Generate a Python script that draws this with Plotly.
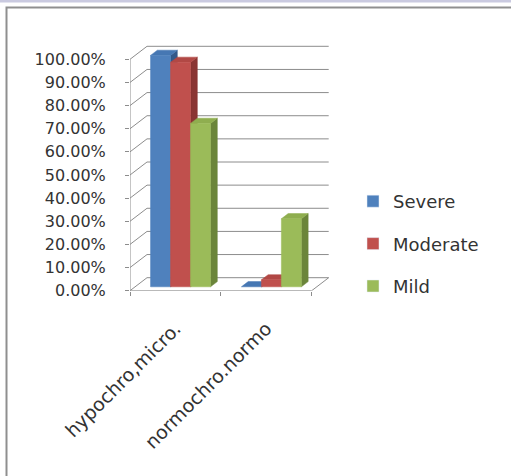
import plotly.graph_objects as go

# ---- data ----
categories = ["hypochro,micro.", "normochro.normo"]
series_names = ["Severe", "Moderate", "Mild"]
severe = [1.00, 0.00]
moderate = [0.97, 0.03]
mild = [0.706, 0.294]
y_ticks = [0.0, 0.1, 0.2, 0.3, 0.4, 0.5, 0.6, 0.7, 0.8, 0.9, 1.0]

series_values = [severe, moderate, mild]
front_cols = ["#4f81bd", "#c0504d", "#9bbb59"]
side_cols = ["#34598a", "#8a3533", "#6b853a"]
top_cols = ["#4677b3", "#b14845", "#8fae4f"]

W, H = 511, 476
# plot geometry (pixels)
L, B, R, T = 130.0, 290.7, 340.0, 35.0
PXU = 90.85   # px per category unit
PYU = 231.4   # px per 100%
DX = 17.0 / PXU
DY = 13.0 / PYU
D0, D1 = 0.3, 0.7          # bar depth span
BW = 0.22                  # bar width (category units)

def P(x, y, d):
    return x + d * DX, y + d * DY

fig = go.Figure()

# ---- walls / floor / gridlines ----
gx, gy = [], []
x_lo, x_hi = -0.5, len(categories) - 0.5
for v in y_ticks:
    for pt in (P(x_lo, v, 0), P(x_lo, v, 1), P(x_hi, v, 1)):
        gx.append(pt[0]); gy.append(pt[1])
    gx.append(None); gy.append(None)
for a, b in ((P(x_lo, 0, 0), P(x_hi, 0, 0)), (P(x_hi, 0, 0), P(x_hi, 0, 1)),
             (P(x_lo, 0, 0), P(x_lo, y_ticks[-1], 0))):
    gx += [a[0], b[0], None]; gy += [a[1], b[1], None]
fig.add_trace(go.Scatter(x=gx, y=gy, mode="lines", line=dict(color="#8c8c8c", width=1),
                         showlegend=False, hoverinfo="skip"))

# ---- 3D bars (painter's order, left to right) ----
def poly(pts, color):
    xs = [p[0] for p in pts] + [pts[0][0]]
    ys = [p[1] for p in pts] + [pts[0][1]]
    fig.add_trace(go.Scatter(x=xs, y=ys, mode="lines", fill="toself", fillcolor=color,
                             line=dict(color=color, width=0.5), showlegend=False,
                             hoverinfo="skip"))

n = len(series_values)
for ci in range(len(categories)):
    for si in range(n):
        v = series_values[si][ci]
        xl = ci - n * BW / 2 + si * BW
        xr = xl + BW
        poly([P(xr, 0, D0), P(xr, v, D0), P(xr, v, D1), P(xr, 0, D1)], side_cols[si])
        poly([P(xl, v, D0), P(xr, v, D0), P(xr, v, D1), P(xl, v, D1)], top_cols[si])
        if v > 0:
            poly([P(xl, 0, D0), P(xr, 0, D0), P(xr, v, D0), P(xl, v, D0)], front_cols[si])

# legend-only bar entries (placed outside visible range)
for si, name in enumerate(series_names):
    fig.add_trace(go.Bar(x=[-50], y=[1], name=name, marker=dict(color=front_cols[si]),
                         legendgroup=name, xaxis="x", yaxis="y"))

# dummy trace for category label axis
fig.add_trace(go.Scatter(x=[0, 1], y=[None, None], xaxis="x2", yaxis="y",
                         showlegend=False, hoverinfo="skip"))

xr_ = [-0.5, -0.5 + (R - L) / PXU]
yr_ = [0, (B - T) / PYU]
font = "DejaVu Sans"
fig.update_layout(
    width=W, height=H, margin=dict(l=0, r=0, t=0, b=0),
    paper_bgcolor="white", plot_bgcolor="rgba(0,0,0,0)",
    showlegend=True, barmode="overlay",
    xaxis=dict(domain=[L / W, R / W], range=xr_, tickvals=[-0.5, 0.5, 1.5], ticktext=["", "", ""],
               ticks="outside", ticklen=4, tickcolor="#8c8c8c", showgrid=False, zeroline=False,
               showline=False, automargin=False, fixedrange=True),
    xaxis2=dict(domain=[L / W, R / W], range=xr_, overlaying="x", anchor="y", side="bottom",
                tickvals=list(range(len(categories))), ticktext=categories, tickangle=-45,
                ticks="", showgrid=False, zeroline=False, showline=False, automargin=False,
                tickfont=dict(family=font, size=19, color="#333333"), ticklabelstandoff=22),
    yaxis=dict(domain=[1 - B / H, 1 - T / H], range=yr_, tickvals=y_ticks, tickformat=".2%",
               ticks="outside", ticklen=4, tickcolor="#8c8c8c", showgrid=False, zeroline=False,
               showline=False, automargin=False, ticklabelstandoff=16,
               tickfont=dict(family=font, size=16, color="#333333")),
    legend=dict(x=353 / W, y=1 - 183 / H, xanchor="left", yanchor="top", tracegroupgap=16,
                font=dict(family=font, size=18, color="#333333"), bgcolor="rgba(0,0,0,0)"),
    shapes=[
        dict(type="rect", xref="paper", yref="paper", x0=0, x1=1, y0=1 - 2.5 / H, y1=1,
             fillcolor="#cacae0", line=dict(width=0)),
        dict(type="path", xref="paper", yref="paper",
             path=f"M {6.5 / W},0 L {6.5 / W},{1 - 7.5 / H} L 1,{1 - 7.5 / H}",
             line=dict(color="#8f8f8f", width=2)),
    ],
)
fig.write_html("out.html")
